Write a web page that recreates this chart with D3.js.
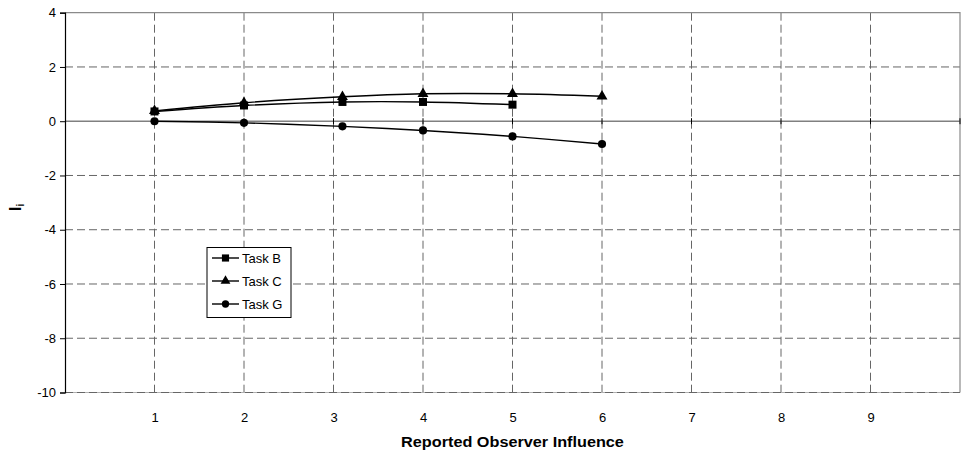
<!DOCTYPE html>
<html><head><meta charset="utf-8">
<script src="https://cdn.jsdelivr.net/npm/d3@7"></script>
<style>
body{margin:0;background:#fff;}
svg{display:block;font-family:"Liberation Sans",Arial,sans-serif;}
</style></head>
<body><svg id="c" width="969" height="457"></svg>
<script>
const seriesNames = ["Task B","Task C","Task G"];
const taskBx = [1,2,3.1,4,5];
const taskBy = [0.36,0.58,0.71,0.71,0.61];
const taskCx = [1,2,3.1,4,5,6];
const taskCy = [0.38,0.68,0.90,1.01,1.01,0.92];
const taskGx = [1,2,3.1,4,5,6];
const taskGy = [0,-0.06,-0.19,-0.34,-0.56,-0.84];
const xTicks = [1,2,3,4,5,6,7,8,9];
const yTicks = [4,2,0,-2,-4,-6,-8,-10];
const xTitle = "Reported Observer Influence";

const FONT = "'Liberation Sans', Arial, sans-serif";
const svg = d3.select("#c");
const x = d3.scaleLinear().domain([0,10]).range([65,960]);
const y = d3.scaleLinear().domain([-10,4]).range([392.5,12.7]);

const gridColor = "#666";
svg.append("g").selectAll("line").data(yTicks.filter(v=>v!==0 && v!==4)).join("line")
  .attr("x1",x(0)).attr("x2",x(10)).attr("y1",d=>y(d)).attr("y2",d=>y(d))
  .attr("stroke",gridColor).attr("stroke-width",1).attr("stroke-dasharray","8,4");
svg.append("g").selectAll("line").data(xTicks).join("line")
  .attr("x1",d=>x(d)).attr("x2",d=>x(d)).attr("y1",y(4)).attr("y2",y(-10))
  .attr("stroke",gridColor).attr("stroke-width",1).attr("stroke-dasharray","8,4");
svg.append("path").attr("d",`M${x(0)},${y(4)}H${x(10)}V${y(-10)}`)
  .attr("fill","none").attr("stroke","#8a8a8a").attr("stroke-width",1.2);
svg.append("line").attr("x1",x(0)).attr("x2",x(10)).attr("y1",y(-10)).attr("y2",y(-10))
  .attr("stroke","#b0b0b0").attr("stroke-width",1);
svg.append("line").attr("x1",x(0)).attr("x2",x(10)).attr("y1",y(-10)).attr("y2",y(-10))
  .attr("stroke",gridColor).attr("stroke-width",1).attr("stroke-dasharray","8,4");
svg.append("line").attr("x1",x(0)).attr("x2",x(10)).attr("y1",y(0)).attr("y2",y(0))
  .attr("stroke","#808080").attr("stroke-width",1.6);
svg.append("g").selectAll("line").data(xTicks.concat([10])).join("line")
  .attr("x1",d=>x(d)).attr("x2",d=>x(d)).attr("y1",y(0)-3).attr("y2",y(0)+3)
  .attr("stroke","#000").attr("stroke-width",1);

const yAxis = d3.axisLeft(y).tickValues(yTicks).tickSize(5).tickPadding(4).tickFormat(d3.format("d"));
const ga = svg.append("g").attr("transform",`translate(${x(0)},0)`).call(yAxis);
ga.select(".domain").attr("stroke","#000").attr("stroke-width",1.2);
ga.selectAll(".tick line").attr("stroke","#000");
ga.selectAll("text").attr("font-size","13px").attr("fill","#000")
  .attr("font-family",FONT).text(d=>d<0?"-"+Math.abs(d):d);

const xAxis = d3.axisBottom(x).tickValues(xTicks).tickSize(0).tickPadding(0);
const gx = svg.append("g").attr("transform",`translate(0,413)`).call(xAxis);
gx.select(".domain").remove();
gx.selectAll("text").attr("font-size","13px").attr("fill","#000").attr("font-family",FONT);

svg.append("text").attr("x",512.5).attr("y",447).attr("text-anchor","middle")
  .attr("font-size","14px").attr("font-weight","bold").attr("font-family",FONT)
  .attr("transform","translate(512.5,0) scale(1.16,1) translate(-512.5,0)")
  .text(xTitle);
const yt = svg.append("text").attr("transform","translate(21,211) rotate(-90)")
  .attr("font-size","16px").attr("font-weight","bold").attr("font-family",FONT);
yt.append("tspan").text("I");
yt.append("tspan").attr("font-size","10px").attr("dy",3).text("i");

const data = [
  {name:seriesNames[0], xs:taskBx, ys:taskBy, sym:d3.symbolSquare, size:64},
  {name:seriesNames[1], xs:taskCx, ys:taskCy, sym:d3.symbolTriangle, size:52},
  {name:seriesNames[2], xs:taskGx, ys:taskGy, sym:d3.symbolCircle, size:52}
];
const line = d3.line().x(d=>x(d[0])).y(d=>y(d[1])).curve(d3.curveCatmullRom.alpha(0.5));
data.forEach(s=>{
  const pts = s.xs.map((v,i)=>[v,s.ys[i]]);
  svg.append("path").attr("d",line(pts)).attr("fill","none").attr("stroke","#000").attr("stroke-width",1.4);
  svg.append("g").selectAll("path").data(pts).join("path")
    .attr("d",d3.symbol().type(s.sym).size(s.size))
    .attr("transform",d=>`translate(${x(d[0])},${y(d[1])})`).attr("fill","#000");
});

const lg = svg.append("g");
lg.append("rect").attr("x",207).attr("y",247.5).attr("width",84).attr("height",70)
  .attr("fill","#fff").attr("stroke","#000").attr("stroke-width",1);
data.forEach((s,i)=>{
  const cy = 258 + i*23;
  lg.append("line").attr("x1",212).attr("x2",239).attr("y1",cy).attr("y2",cy).attr("stroke","#000").attr("stroke-width",1.4);
  lg.append("path").attr("d",d3.symbol().type(s.sym).size(s.size*0.8)()).attr("transform",`translate(225.5,${cy})`).attr("fill","#000");
  lg.append("text").attr("x",242).attr("y",cy+4.5).attr("font-size","13px").attr("font-family",FONT).text(s.name);
});
</script></body></html>
